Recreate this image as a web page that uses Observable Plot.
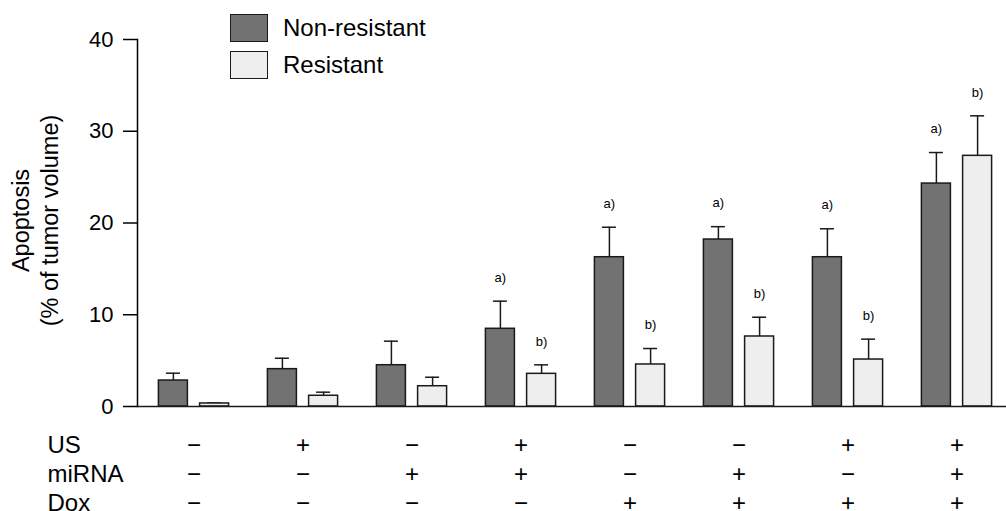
<!DOCTYPE html>
<html><head><meta charset="utf-8">
<script src="https://cdn.jsdelivr.net/npm/d3@7"></script>
<script src="https://cdn.jsdelivr.net/npm/@observablehq/plot@0.6"></script>
<style>
body{margin:0;background:#fff;font-family:"Liberation Sans",Arial,Helvetica,sans-serif;}
#wrap{position:relative;width:1006px;height:511px;}
.sw{position:absolute;width:38px;height:28px;box-sizing:border-box;border:1.5px solid #1a1a1a;}
.lt{position:absolute;font-size:24px;line-height:28px;color:#000;white-space:nowrap;}
</style>
</head><body>
<div id="wrap"></div>
<script>
// ---- data ----
const seriesNames = ["Non-resistant", "Resistant"];
const US    = ["−","+","−","+","−","−","+","+"];
const miRNA = ["−","−","+","+","−","+","−","+"];
const Dox   = ["−","−","−","−","+","+","+","+"];
const nonRes    = [2.83, 4.07, 4.5, 8.47, 16.27, 18.2, 16.27, 24.3];
const nonResErr = [0.8, 1.19, 2.62, 3.01, 3.27, 1.4, 3.1, 3.38];
const res       = [0.33, 1.17, 2.21, 3.56, 4.58, 7.63, 5.12, 27.32];
const resErr    = [0.05, 0.39, 0.98, 0.98, 1.74, 2.1, 2.22, 4.36];
const sigNon = ["", "", "", "a)", "a)", "a)", "a)", "a)"];
const sigRes = ["", "", "", "b)", "b)", "b)", "b)", "b)"];
const yTicks = [0, 10, 20, 30, 40];
const rowLabels = ["US", "miRNA", "Dox"];
const yLabel = ["Apoptosis", "(% of tumor volume)"];

const groups = d3.range(US.length);
const colors = {"Non-resistant": "#727272", "Resistant": "#eeeeee"};
const offsets = {"Non-resistant": -20.6, "Resistant": 20.6};

const table = groups.flatMap(i => [
  {g: i, series: seriesNames[0], value: nonRes[i], err: nonResErr[i], sig: sigNon[i]},
  {g: i, series: seriesNames[1], value: res[i], err: resErr[i], sig: sigRes[i]}
]);

const seriesMarks = seriesNames.flatMap(name => {
  const d = table.filter(r => r.series === name);
  const dx = offsets[name];
  return [
    Plot.ruleX(d, {x: "g", y1: "value", y2: r => r.value + r.err, dx, stroke: "#1a1a1a", strokeWidth: 1.5}),
    Plot.tickY(d, {x: "g", y: r => r.value + r.err, dx, insetLeft: 47.5, insetRight: 47.5, stroke: "#1a1a1a", strokeWidth: 1.5}),
    Plot.barY(d, {x: "g", y: "value", dx, insetLeft: 40, insetRight: 40, fill: colors[name], stroke: "#1a1a1a", strokeWidth: 1.5}),
    Plot.text(d.filter(r => r.sig), {x: "g", y: r => r.value + r.err, text: "sig", dx, dy: -23.5, fontSize: 13, lineAnchor: "middle", fill: "#000"})
  ];
});

const chart = Plot.plot({
  width: 1006, height: 511,
  marginTop: 39, marginBottom: 105, marginLeft: 137, marginRight: 0,
  style: {fontFamily: "'Liberation Sans', Arial, Helvetica, sans-serif", color: "#000", background: "transparent"},
  x: {domain: groups, range: [139, 1011], padding: 0},
  y: {domain: [0, 40]},
  marks: [
    Plot.axisY({ticks: yTicks, tickSize: 14, tickPadding: 10, fontSize: 22, label: null, strokeWidth: 1.5}),
    Plot.frame({anchor: "left", strokeWidth: 1.5}),
    Plot.axisX({tickSize: 0, tickPadding: 26, fontSize: 24, lineHeight: 1.2, label: null,
      tickFormat: i => `${US[i]}\n${miRNA[i]}\n${Dox[i]}`}),
    Plot.text([rowLabels.join("\n")], {frameAnchor: "bottom-left", dx: -90, dy: 26, textAnchor: "start", lineAnchor: "top", fontSize: 24, lineHeight: 1.2, fill: "#000"}),
    Plot.text([yLabel.join("\n")], {frameAnchor: "left", rotate: -90, dx: -103, dy: -2.5, textAnchor: "middle", lineAnchor: "middle", fontSize: 23.5, lineHeight: 1.2, fill: "#000"}),
    ...seriesMarks,
    Plot.ruleY([0], {stroke: "#1a1a1a", strokeWidth: 1.5})
  ]
});

const wrap = document.getElementById("wrap");
wrap.appendChild(chart);
// legend overlay
const legendTop = [14, 51];
seriesNames.forEach((name, k) => {
  const sw = document.createElement("div");
  sw.className = "sw";
  sw.style.left = "230px"; sw.style.top = legendTop[k] + "px";
  sw.style.background = colors[name];
  wrap.appendChild(sw);
  const lt = document.createElement("div");
  lt.className = "lt";
  lt.style.left = "283px"; lt.style.top = legendTop[k] + "px";
  lt.textContent = name;
  wrap.appendChild(lt);
});
</script>
</body></html>
